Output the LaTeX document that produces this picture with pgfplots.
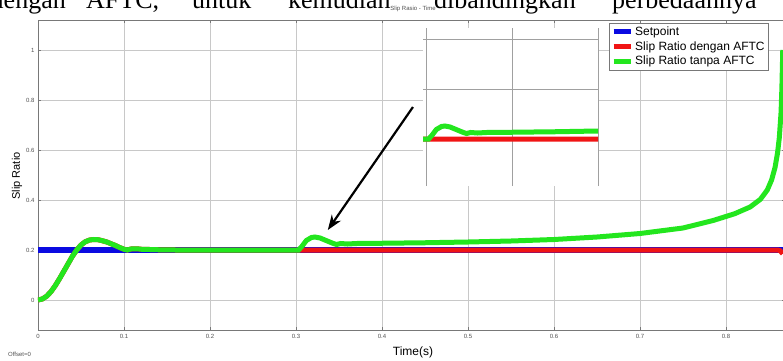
\documentclass[border=0pt]{standalone}
\usepackage{pgfplots}
\pgfplotsset{compat=1.18}
\usepackage{pgfplotstable}
\usepackage{fontspec}
\setmainfont{Liberation Sans}
\newfontfamily\bodyserif{Liberation Serif}
\usetikzlibrary{arrows.meta}

\definecolor{spblue}{RGB}{10,10,225}
\definecolor{aftcred}{RGB}{240,20,20}
\definecolor{noaftc}{RGB}{35,230,30}
\definecolor{gridc}{RGB}{200,200,200}
\definecolor{framec}{RGB}{120,120,120}
\definecolor{tickc}{RGB}{80,80,80}

% Slip ratio without AFTC
\pgfplotstableread{
t v
0 0
0.005 0.004
0.01 0.015
0.015 0.033
0.02 0.057
0.025 0.085
0.03 0.115
0.035 0.145
0.04 0.175
0.045 0.2
0.05 0.22
0.055 0.233
0.06 0.24
0.065 0.242
0.07 0.241
0.075 0.237
0.08 0.232
0.085 0.225
0.09 0.218
0.095 0.21
0.1 0.203
0.104 0.2
0.108 0.204
0.115 0.205
0.12 0.203
0.13 0.202
0.14 0.201
0.16 0.2
0.3 0.2
0.303 0.2
0.307 0.215
0.312 0.238
0.318 0.25
0.322 0.252
0.328 0.248
0.335 0.238
0.342 0.228
0.347 0.222
0.352 0.226
0.36 0.224
0.37 0.226
0.4 0.227
0.45 0.229
0.5 0.232
0.55 0.236
0.6 0.242
0.65 0.252
0.7 0.266
0.75 0.288
0.785 0.318
0.81 0.345
0.828 0.372
0.84 0.403
0.848 0.44
0.853 0.48
0.857 0.53
0.86 0.59
0.862 0.65
0.864 0.75
0.865 0.85
0.866 1.0
}\tanpa

% Slip ratio with AFTC
\pgfplotstableread{
t v
0 0
0.005 0.004
0.01 0.015
0.015 0.033
0.02 0.057
0.025 0.085
0.03 0.115
0.035 0.145
0.04 0.175
0.045 0.2
0.05 0.22
0.055 0.233
0.06 0.24
0.065 0.242
0.07 0.241
0.075 0.237
0.08 0.232
0.085 0.225
0.09 0.218
0.095 0.21
0.1 0.203
0.104 0.2
0.108 0.204
0.115 0.205
0.12 0.203
0.13 0.202
0.14 0.201
0.16 0.2
0.3 0.2
0.86 0.2
0.863 0.197
0.866 0.185
}\dengan

% Setpoint
\pgfplotstableread{
t v
0 0.2
0.87 0.2
}\setpoint

\begin{document}
\begin{tikzpicture}
\begin{axis}[
  name=main, at={(0pt,0pt)}, anchor=south west,
  scale only axis, width=747pt, height=310pt,
  xmin=0, xmax=0.8686, ymin=-0.12, ymax=1.12,
  xtick={0,0.1,...,0.8}, ytick={0,0.2,0.4,0.6,0.8,1},
  grid=major, major grid style={gridc, line width=0.6pt},
  axis line style={framec, line width=0.8pt},
  tick style={framec, line width=0.6pt}, tick align=inside,
  major tick length=3pt,
  /pgf/number format/assume math mode=true,
  ticklabel style={font=\fontsize{6}{7}\selectfont, text=tickc},
  xticklabel style={yshift=-1pt},
  xlabel={Time(s)}, ylabel={Slip Ratio},
  xlabel style={font=\fontsize{12}{14}\selectfont,
    at={(axis description cs:0.502,0)}, anchor=center, yshift=-22pt},
  ylabel style={font=\fontsize{11}{13}\selectfont,
    at={(axis description cs:-0.0281,0.497)}, anchor=center},
  title={Slip Rasio - Time},
  title style={font=\fontsize{6}{7}\selectfont, text=tickc,
    at={(axis description cs:0.502,1)}, anchor=center, yshift=5pt},
  legend style={at={(axis description cs:0.7644,0.9903)}, anchor=north west,
    draw=framec, fill=white, font=\fontsize{12}{14}\selectfont,
    inner xsep=2pt, inner ysep=1.5pt, row sep=0.5pt},
  legend cell align=left,
  legend image code/.code={\draw[#1, line width=5pt] (0pt,0pt) -- (17pt,0pt);},
]
\addplot[spblue, line width=6pt] table[x=t,y=v] {\setpoint};
\addlegendentry{Setpoint}
\addplot[aftcred, line width=5pt] table[x=t,y=v] {\dengan};
\addlegendentry{Slip Ratio dengan AFTC}
\addplot[noaftc, line width=5pt] table[x=t,y=v] {\tanpa};
\addlegendentry{Slip Ratio tanpa AFTC}
\draw[-{Stealth[length=15pt,width=11pt]}, line width=2.2pt, black]
  (axis cs:0.436,0.772) -- (axis cs:0.337,0.28);
\end{axis}

% magnified view of the disturbance at t = 0.3 s
\coordinate (insetsw) at ([shift={(385pt,144pt)}]main.south west);
\coordinate (insetne) at ([shift={(560pt,302pt)}]main.south west);
\fill[white] (insetsw) rectangle (insetne);
\begin{axis}[
  at={(insetsw)}, anchor=south west,
  scale only axis, width=175pt, height=158pt,
  xmin=0.2965, xmax=0.5, ymin=0.012, ymax=0.644,
  xtick={0.3,0.4,0.5}, ytick={0.2,0.4,0.6},
  xticklabels={}, yticklabels={},
  major tick length=0pt,
  grid=major, major grid style={gridc!80!black, line width=0.6pt},
  axis line style={draw=none},
]
\addplot[aftcred, line width=5pt] table[x=t,y=v] {\dengan};
\addplot[noaftc, line width=5pt] table[x=t,y=v] {\tanpa};
\end{axis}

\node[anchor=base west, inner sep=0pt, font=\fontsize{6}{7}\selectfont, text=tickc]
  at ([shift={(-30pt,-26pt)}]main.south west) {Offset=0};

% running text of the page above the figure
\begin{scope}[shift={([shift={(-38pt,-30pt)}]main.south west)},
  every node/.style={inner sep=0pt,font=\bodyserif\fontsize{26}{30}\selectfont}]
\node[anchor=base east] at (66pt,352pt) {dengan};
\node[anchor=base west] at (86pt,352pt) {AFTC,};
\node[anchor=base west] at (192pt,352pt) {untuk};
\node[anchor=base west] at (288pt,352pt) {kemudian};
\node[anchor=base west] at (434pt,352pt) {dibandingkan};
\node[anchor=base west] at (612pt,352pt) {perbedaannya};
\end{scope}

\pgfresetboundingbox
\useasboundingbox ([shift={(-38pt,-30pt)}]main.south west) rectangle ([shift={(745pt,330pt)}]main.south west);
\end{tikzpicture}
\end{document}
